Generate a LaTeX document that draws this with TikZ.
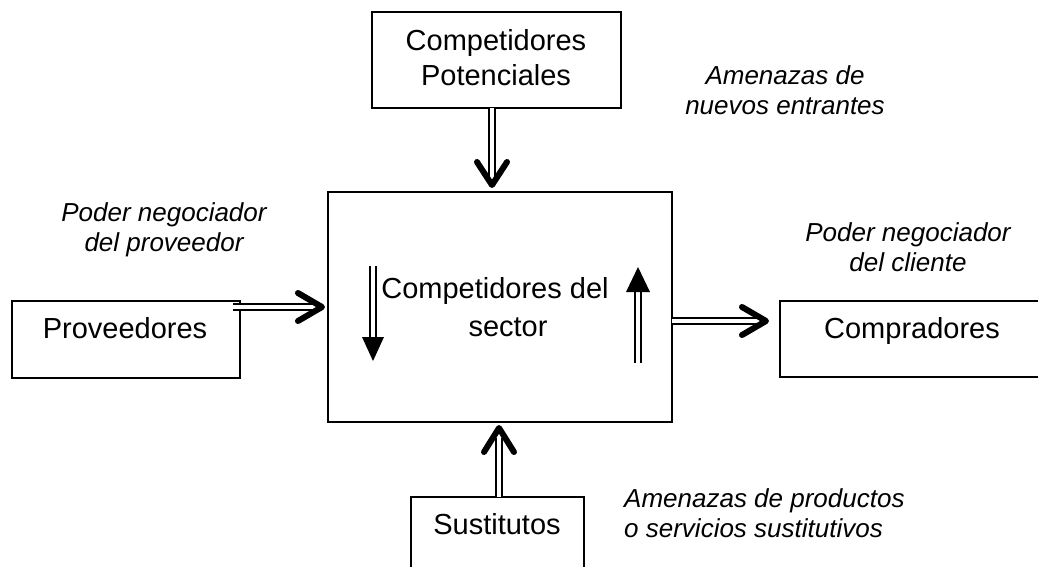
\documentclass[tikz,border=0pt]{standalone}
\usepackage{fontspec}
\setmainfont{Liberation Sans}
\usetikzlibrary{calc}
\begin{document}
\begin{tikzpicture}[x=1pt,y=-1pt,
  box/.style={draw=black, line width=2pt, fill=none},
  big/.style={font=\fontsize{29}{35}\selectfont, align=center, inner sep=0pt},
  lbl/.style={font=\fontsize{26}{30}\selectfont\itshape, inner sep=0pt},
  shaft/.style={draw=black, double=white, line width=2pt, double distance=4pt},
  chev/.style={draw=black, line width=6pt, line cap=round, line join=round},
  tri/.style={fill=black, draw=none}]
\useasboundingbox (0,0) rectangle (1038,566);
% boxes
\draw[box] (372,12) rectangle (621,108);
\node[big] (pot) at (496,58) {Competidores\\Potenciales};
\coordinate (potS) at (492,108);
\draw[box] (328,192) rectangle (672,422);
\coordinate (mainN) at (492,192);
\coordinate (mainS) at (499,422);
\coordinate (mainW) at (328,307);
\coordinate (mainE) at (672,321);
\node[big, anchor=base] (sec1) at (495,298) {Competidores del};
\node[big, anchor=base] (sec2) at (508,336) {sector};
\draw[box] (12,301) rectangle (240,378);
\node[big, anchor=base] (prov) at (125,338) {Proveedores};
\coordinate (provE) at (233,307);
\draw[box] (780,301) rectangle (1050,377);
\node[big, anchor=base] (comp) at (912,338) {Compradores};
\coordinate (compW) at (770,321);
\draw[box] (411,497) rectangle (584,590);
\node[big, anchor=base] (sust) at (497,534) {Sustitutos};
\coordinate (sustN) at (499,497);
% labels
\node[lbl, align=center] (l1) at (785,90) {Amenazas de\\nuevos entrantes};
\node[lbl, align=center] (l2) at (164,230) {Poder negociador\\del proveedor};
\node[lbl, align=center] (l3) at (908,247) {Poder negociador\\del cliente};
\node[lbl, align=left, anchor=west] (l4) at (624,513) {Amenazas de productos\\o servicios sustitutivos};
% outer arrows
\draw[shaft] (potS) -- ($(mainN)+(0,-16)$);
\draw[chev] ($(mainN)+(-15,-30)$) -- ($(mainN)+(0,-7)$) -- ($(mainN)+(15,-30)$);
\draw[shaft] (provE) -- ($(mainW)+(-14,0)$);
\draw[chev] ($(mainW)+(-30,-14)$) -- ($(mainW)+(-6,0)$) -- ($(mainW)+(-30,14)$);
\draw[shaft] (mainE) -- ($(compW)+(-10,0)$);
\draw[chev] ($(compW)+(-28,-14)$) -- ($(compW)+(-4,0)$) -- ($(compW)+(-28,14)$);
\draw[shaft] (sustN) -- ($(mainS)+(0,16)$);
\draw[chev] ($(mainS)+(-15,30)$) -- ($(mainS)+(0,6)$) -- ($(mainS)+(15,30)$);
% inner arrows
\coordinate (dTop) at (373,266);
\coordinate (dTip) at (373,361);
\draw[shaft] (dTop) -- ($(dTip)+(0,-20)$);
\fill[tri] ($(dTip)+(-11,-24)$) -- (dTip) -- ($(dTip)+(11,-24)$) -- cycle;
\coordinate (uBot) at (638,363);
\coordinate (uTip) at (638,267);
\draw[shaft] (uBot) -- ($(uTip)+(0,20)$);
\fill[tri] ($(uTip)+(-12,25)$) -- (uTip) -- ($(uTip)+(12,25)$) -- cycle;
\end{tikzpicture}
\end{document}
